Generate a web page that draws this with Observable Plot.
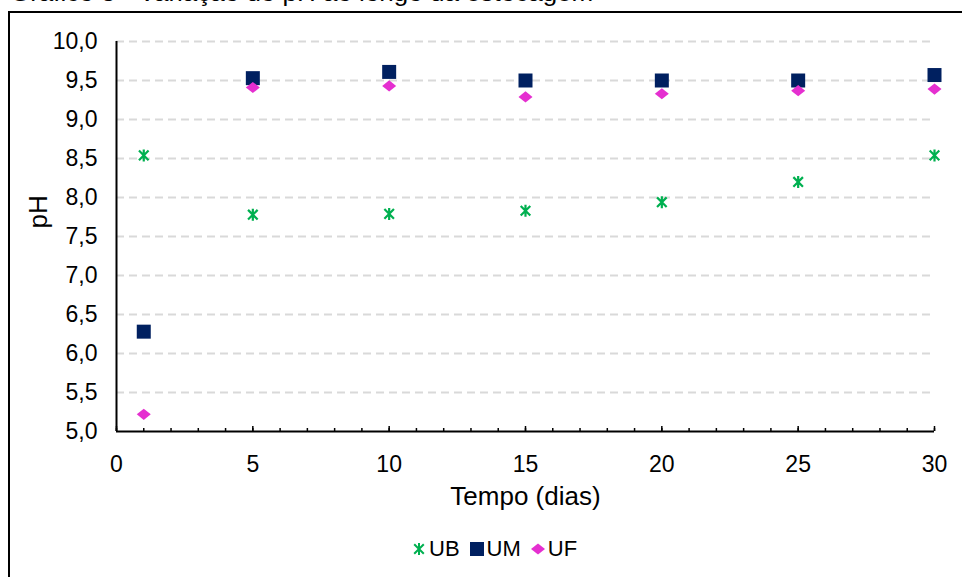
<!DOCTYPE html>
<html>
<head>
<meta charset="utf-8">
<script src="https://cdn.jsdelivr.net/npm/d3@7"></script>
<script src="https://cdn.jsdelivr.net/npm/@observablehq/plot@0.6"></script>
<style>
  body { margin: 0; background: #fff; font-family: Arial, "Liberation Sans", sans-serif; }
  #wrap { position: relative; width: 962px; height: 577px; overflow: hidden; background: #fff; }
  #title { position: absolute; left: 10px; top: -18px; font-size: 23px; line-height: 23px;
           white-space: nowrap; color: #000; transform-origin: left top; transform: scaleX(1.13); }
  #frame { position: absolute; left: 8px; top: 11px; width: 1000px; height: 700px;
           border: 2px solid #000; box-sizing: border-box; }
  #chart { position: absolute; left: 0; top: 0; }
  #legend { position: absolute; left: 412px; top: 536px; display: flex; align-items: center;
            gap: 10px; font-size: 22px; color: #000; }
  #legend .item { display: flex; align-items: center; gap: 3px; }
  #legend svg { display: block; overflow: visible; }
</style>
</head>
<body>
<div id="wrap">
  <div id="title"></div>
  <div id="frame"></div>
  <div id="chart"></div>
  <div id="legend"></div>
</div>
<script>
// Storage time (days) and pH of each sample
const dias = [1, 5, 10, 15, 20, 25, 30];
const phUB = [8.54, 7.78, 7.79, 7.83, 7.94, 8.20, 8.54];
const phUM = [6.28, 9.53, 9.61, 9.50, 9.50, 9.50, 9.57];
const phUF = [5.22, 9.41, 9.43, 9.29, 9.33, 9.37, 9.39];

const seriesNames = ["UB", "UM", "UF"];
const seriesColors = ["#00B050", "#002060", "#E52FD0"];

// Axis ticks and labels
const xMajorTicks = [0, 5, 10, 15, 20, 25, 30];
const xMinorTicks = d3.range(0, 31);
const yTicks = [5.0, 5.5, 6.0, 6.5, 7.0, 7.5, 8.0, 8.5, 9.0, 9.5, 10.0];
const titleText = "Gráfico 3 - Variação do pH ao longo da estocagem";
const xLabel = "Tempo (dias)";
const yLabel = "pH";

const fmt = d => d.toFixed(1).replace(".", ",");

// Marker shapes: six-armed star, square, flattened diamond
const starSymbol = {
  draw(ctx, size) {
    const r = Math.sqrt(size / Math.PI), d = r * 0.8;
    ctx.moveTo(0, -r); ctx.lineTo(0, r);
    ctx.moveTo(-d, -d); ctx.lineTo(d, d);
    ctx.moveTo(-d, d); ctx.lineTo(d, -d);
  }
};
const squareSymbol = {
  draw(ctx, size) {
    const r = Math.sqrt(size / Math.PI);
    ctx.rect(-r, -r, 2 * r, 2 * r);
  }
};
const diamondSymbol = {
  draw(ctx, size) {
    const r = Math.sqrt(size / Math.PI), h = r * 0.8;
    ctx.moveTo(0, -h); ctx.lineTo(r, 0); ctx.lineTo(0, h); ctx.lineTo(-r, 0); ctx.closePath();
  }
};

const rows = (vals) => dias.map((d, i) => ({dia: d, ph: vals[i]}));

const chart = Plot.plot({
  width: 962,
  height: 520,
  marginLeft: 116,
  marginRight: 28,
  marginTop: 41,
  marginBottom: 89,
  style: {fontFamily: "Arial, 'Liberation Sans', sans-serif", fontSize: "23px", color: "#000", background: "transparent"},
  x: {domain: [0, 30]},
  y: {domain: [5, 10]},
  marks: [
    Plot.ruleY(yTicks.slice(1), {stroke: "#D9D9D9", strokeWidth: 2, strokeDasharray: "8,5"}),
    Plot.axisY(yTicks, {tickSize: 0, tickPadding: 19, tickFormat: fmt, label: null}),
    Plot.axisX(xMinorTicks, {tickSize: -3, stroke: "#000", strokeWidth: 1.5, text: null, label: null}),
    Plot.axisX(xMajorTicks, {tickSize: -5, stroke: "#000", strokeWidth: 1.5, text: null, label: null}),
    Plot.axisX(xMajorTicks, {tickSize: 0, tickPadding: 24, label: null}),
    Plot.ruleX([0], {stroke: "#000", strokeWidth: 2}),
    Plot.ruleY([5], {stroke: "#000", strokeWidth: 2}),
    Plot.text([xLabel], {frameAnchor: "bottom", dy: 73, fontSize: 26, fill: "#000"}),
    Plot.text([yLabel], {frameAnchor: "left", dx: -78, dy: -8, rotate: -90, fontSize: 26, fill: "#000"}),
    Plot.dot(rows(phUB), {x: "dia", y: "ph", symbol: starSymbol, r: 6, fill: "none", stroke: seriesColors[0], strokeWidth: 2.2}),
    Plot.dot(rows(phUM), {x: "dia", y: "ph", symbol: squareSymbol, r: 7, fill: seriesColors[1], stroke: "none"}),
    Plot.dot(rows(phUF), {x: "dia", y: "ph", symbol: diamondSymbol, r: 7, fill: seriesColors[2], stroke: "none"})
  ]
});
document.getElementById("chart").appendChild(chart);
document.getElementById("title").textContent = titleText;

// Legend below the plot
const legendSymbols = [starSymbol, squareSymbol, diamondSymbol];
const legendSizes = [6, 7, 7];
const legend = d3.select("#legend");
seriesNames.forEach((name, i) => {
  const item = legend.append("div").attr("class", "item");
  const svg = item.append("svg").attr("width", 14).attr("height", 14);
  const filled = i > 0;
  svg.append("path")
    .attr("transform", "translate(7,7)")
    .attr("d", d3.symbol(legendSymbols[i], Math.PI * legendSizes[i] ** 2)())
    .attr("fill", filled ? seriesColors[i] : "none")
    .attr("stroke", filled ? "none" : seriesColors[i])
    .attr("stroke-width", 2);
  item.append("span").text(name);
});
</script>
</body>
</html>
